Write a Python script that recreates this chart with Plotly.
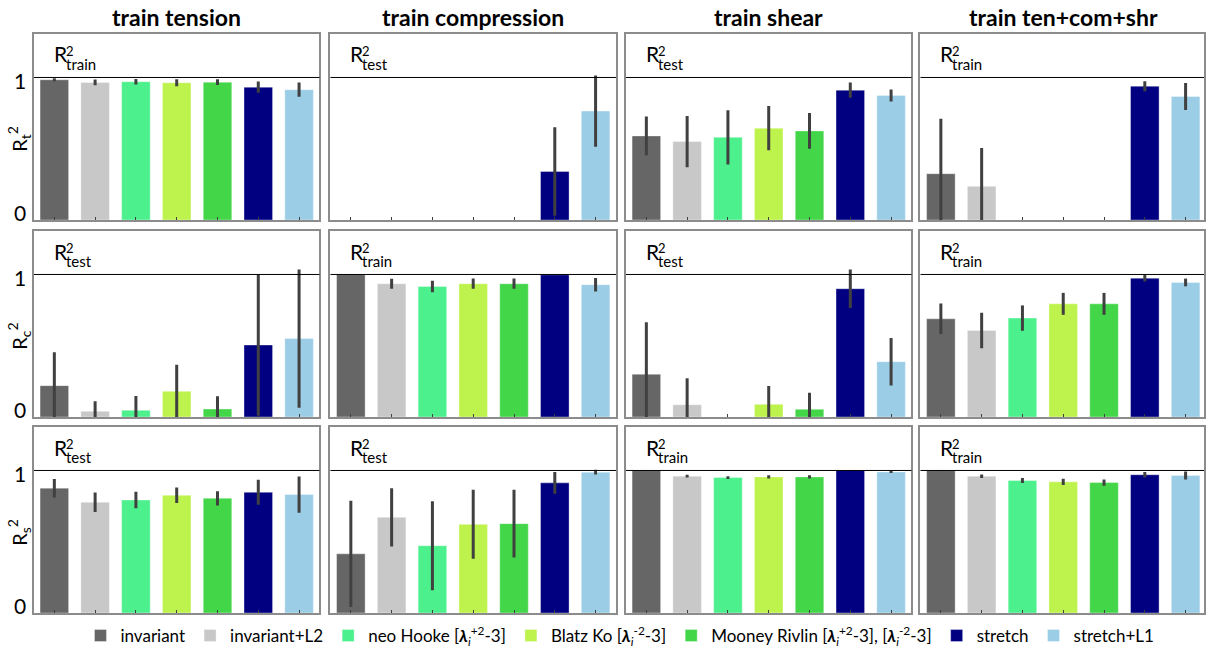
import plotly.graph_objects as go

# ---------------- data ----------------
models = [
    "invariant",
    "invariant+L2",
    "neo Hooke [<b><i>λ</i></b><sub><i>i</i></sub><sup>+2</sup>-3]",
    "Blatz Ko [<b><i>λ</i></b><sub><i>i</i></sub><sup>-2</sup>-3]",
    "Mooney Rivlin [<b><i>λ</i></b><sub><i>i</i></sub><sup>+2</sup>-3], [<b><i>λ</i></b><sub><i>i</i></sub><sup>-2</sup>-3]",
    "stretch",
    "stretch+L1",
]
colors = ["#666666", "#c8c8c8", "#4cf08c", "#bef24c", "#42d648", "#000080", "#9bcde6"]

col_titles = ["train tension", "train compression", "train shear", "train ten+com+shr"]
row_labels = ["R<sub>t</sub><sup>2</sup>", "R<sub>c</sub><sup>2</sup>", "R<sub>s</sub><sup>2</sup>"]
header_labels = [
    ["train", "test", "test", "train"],
    ["test", "train", "test", "train"],
    ["test", "test", "train", "train"],
]
ytick_vals = [0, 1]
ytick_text = ["0", "1"]

N = None
# row 1: R_t^2
rt_tension = [0.984, 0.965, 0.970, 0.963, 0.967, 0.932, 0.914]
rt_tension_err = [0.010, 0.020, 0.020, 0.025, 0.020, 0.040, 0.050]
rt_compression = [N, N, N, N, N, 0.340, 0.764]
rt_compression_err = [0, 0, 0, 0, 0, 0.310, 0.250]
rt_shear = [0.590, 0.550, 0.580, 0.644, 0.625, 0.911, 0.874]
rt_shear_err = [0.136, 0.180, 0.190, 0.155, 0.125, 0.053, 0.042]
rt_all = [0.325, 0.236, N, N, N, 0.939, 0.867]
rt_all_err = [0.385, 0.270, 0, 0, 0, 0.035, 0.095]
# row 2: R_c^2
rc_tension = [0.220, 0.040, 0.047, 0.180, 0.056, 0.505, 0.550]
rc_tension_err = [0.235, 0.070, 0.100, 0.187, 0.090, 0.495, 0.485]
rc_compression = [1.000, 0.935, 0.916, 0.935, 0.935, 0.998, 0.928]
rc_compression_err = [0.004, 0.035, 0.040, 0.036, 0.036, 0.004, 0.047]
rc_shear = [0.300, 0.086, N, 0.089, 0.054, 0.900, 0.388]
rc_shear_err = [0.365, 0.185, 0, 0.128, 0.117, 0.135, 0.167]
rc_all = [0.689, 0.607, 0.694, 0.794, 0.794, 0.974, 0.944]
rc_all_err = [0.107, 0.124, 0.089, 0.077, 0.077, 0.023, 0.027]
# row 3: R_s^2
rs_tension = [0.876, 0.777, 0.793, 0.826, 0.805, 0.847, 0.831]
rs_tension_err = [0.065, 0.068, 0.058, 0.055, 0.050, 0.088, 0.127]
rs_compression = [0.415, 0.671, 0.472, 0.622, 0.627, 0.913, 0.988]
rs_compression_err = [0.373, 0.205, 0.312, 0.242, 0.237, 0.077, 0.017]
rs_shear = [1.000, 0.960, 0.950, 0.955, 0.955, 1.000, 0.990]
rs_shear_err = [0.003, 0.010, 0.010, 0.012, 0.012, 0.003, 0.008]
rs_all = [1.000, 0.960, 0.930, 0.920, 0.915, 0.970, 0.965]
rs_all_err = [0.003, 0.012, 0.018, 0.022, 0.022, 0.020, 0.028]

values = [
    [rt_tension, rt_compression, rt_shear, rt_all],
    [rc_tension, rc_compression, rc_shear, rc_all],
    [rs_tension, rs_compression, rs_shear, rs_all],
]
errors = [
    [rt_tension_err, rt_compression_err, rt_shear_err, rt_all_err],
    [rc_tension_err, rc_compression_err, rc_shear_err, rc_all_err],
    [rs_tension_err, rs_compression_err, rs_shear_err, rs_all_err],
]

# ---------------- layout geometry (pixels) ----------------
W, H = 1206, 655
col_px = [(34, 320), (331, 617), (627, 913), (922, 1208)]
row_px = [(34, 220), (231, 417), (427, 613)]
cat_w = (320 - 34) / 7.0
YMAX = 1.305
FONT = "Lato"

def px(x):
    return x / W

def py(y):
    return 1 - y / H

fig = go.Figure()
layout = {}
annotations = []
shapes = []

for r in range(3):
    for c in range(4):
        k = r * 4 + c + 1
        sfx = "" if k == 1 else str(k)
        xa, ya = "x" + sfx, "y" + sfx
        x0, x1 = col_px[c]
        y0, y1 = row_px[r]
        xr_hi = -0.5 + (min(x1, W) - x0) / cat_w
        x1c = min(x1, W)
        for i, m in enumerate(models):
            v = values[r][c][i]
            e = errors[r][c][i]
            fig.add_trace(go.Bar(
                x=[i], y=[v], width=0.7,
                marker=dict(color=colors[i], line=dict(width=0.6, color="rgba(255,255,255,0.6)")),
                error_y=dict(type="data", array=[e], visible=True, thickness=3,
                             width=0, color="#404040"),
                name=m, legendgroup=m, showlegend=(k == 1),
                xaxis=xa, yaxis=ya,
            ))
        layout["xaxis" + sfx] = dict(
            domain=[px(x0), px(x1c)], range=[-0.5, xr_hi], anchor=ya,
            showgrid=False, zeroline=False, showline=True, mirror=True,
            linecolor="#8c8c8c", linewidth=1.5,
            tickmode="array", tickvals=list(range(7)), showticklabels=False,
            ticks="inside", ticklen=3, tickwidth=1, tickcolor="#404040",
            fixedrange=True,
        )
        layout["yaxis" + sfx] = dict(
            domain=[py(y1), py(y0)], range=[0, YMAX], anchor=xa,
            showgrid=False, zeroline=False, showline=True, mirror=True,
            linecolor="#8c8c8c", linewidth=1.5,
            showticklabels=False, ticks="", fixedrange=True,
        )
        # line at R^2 = 1
        shapes.append(dict(type="line", xref=xa + " domain", yref=ya,
                           x0=0, x1=1, y0=1, y1=1,
                           line=dict(color="black", width=1)))
        # header label R^2_{train/test}
        annotations.append(dict(text="R", xref="paper", yref="paper",
                                x=px(x0 + 18), y=py(y0 + 20), xanchor="left", yanchor="middle",
                                showarrow=False, font=dict(family=FONT, size=21, color="black")))
        annotations.append(dict(text="2", xref="paper", yref="paper",
                                x=px(x0 + 30), y=py(y0 + 17), xanchor="left", yanchor="middle",
                                showarrow=False, font=dict(family=FONT, size=13, color="black")))
        annotations.append(dict(text=header_labels[r][c], xref="paper", yref="paper",
                                x=px(x0 + 30), y=py(y0 + 30), xanchor="left", yanchor="middle",
                                showarrow=False, font=dict(family=FONT, size=15, color="black")))
        if c == 0:
            for tv, tt in zip(ytick_vals, ytick_text):
                annotations.append(dict(text=tt, xref="paper", yref=ya, x=px(28), y=tv,
                                        xanchor="right", yanchor="middle",
                                        yshift=(-3 if tv == 1 else 8),
                                        showarrow=False, font=dict(family=FONT, size=21, color="black")))
            annotations.append(dict(text=row_labels[r], xref="paper", yref=ya, x=px(19), y=0.57,
                                    xanchor="center", yanchor="middle", textangle=-90,
                                    showarrow=False, font=dict(family=FONT, size=20, color="black")))
        if r == 0:
            annotations.append(dict(text="<b>" + col_titles[c] + "</b>", xref="paper", yref="paper",
                                    x=px((x0 + x1) / 2), y=py(17), xanchor="center", yanchor="middle",
                                    showarrow=False, font=dict(family=FONT, size=23, color="black")))

fig.update_layout(
    width=W, height=H,
    margin=dict(l=0, r=0, t=0, b=0),
    paper_bgcolor="white", plot_bgcolor="white",
    barmode="overlay",
    annotations=annotations, shapes=shapes,
    legend=dict(orientation="h", x=px(621), xanchor="center", y=py(636), yanchor="middle",
                font=dict(family=FONT, size=17, color="black"),
                itemwidth=30, tracegroupgap=0, bgcolor="rgba(0,0,0,0)"),
    showlegend=True,
    **layout,
)

fig.write_html(
    "out.html",
    config={"displayModeBar": False},
    post_script="document.body.style.margin='0';document.body.style.padding='0';document.body.style.overflow='hidden';",
)
